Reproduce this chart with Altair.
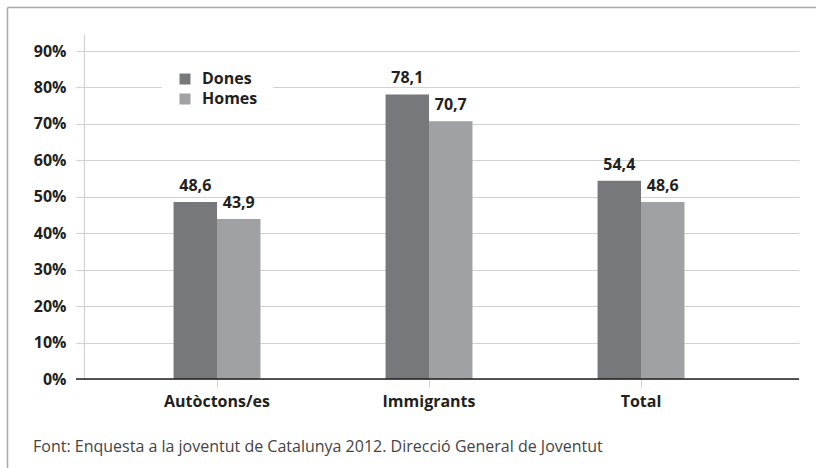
import altair as alt
import pandas as pd

categories = ["Autòctons/es", "Immigrants", "Total"]
dones = [48.6, 78.1, 54.4]
homes = [43.9, 70.7, 48.6]
series = ["Dones", "Homes"]
y_ticks = [0, 10, 20, 30, 40, 50, 60, 70, 80, 90]
source = "Font: Enquesta a la joventut de Catalunya 2012. Direcció General de Joventut"

rows = []
for c, d, h in zip(categories, dones, homes):
    rows.append({"cat": c, "sexe": "Dones", "val": d})
    rows.append({"cat": c, "sexe": "Homes", "val": h})
df = pd.DataFrame(rows)

FONT = "Open Sans"
TXT = "#231f20"
GRID = "#d1d2d4"
W, H = 715, 345

xscale = alt.Scale(domain=categories, paddingInner=0.59, paddingOuter=0.4813, align=0.4388)
yscale = alt.Scale(domain=[0, 94.67], nice=False)
offscale = alt.Scale(paddingInner=0, paddingOuter=0)

xaxis = alt.Axis(title=None, labelAngle=0, domain=False, grid=False,
                 tickColor=GRID, tickSize=8, labelFont=FONT, labelFontSize=16,
                 labelFontWeight="bold", labelColor=TXT, labelPadding=6)
yaxis = alt.Axis(title=None, values=y_ticks, labelExpr="datum.value + '%'",
                 grid=True, gridColor=GRID, gridWidth=1.2,
                 domain=True, domainColor=GRID, domainWidth=1.2,
                 tickColor=GRID, tickSize=8, tickWidth=1.2,
                 labelFont=FONT, labelFontSize=16, labelFontWeight="bold",
                 labelColor=TXT, labelPadding=10, labelOverlap=False)

base = alt.Chart(df)

bars = base.mark_bar().encode(
    x=alt.X("cat:N", scale=xscale, sort=categories, axis=xaxis),
    xOffset=alt.XOffset("sexe:N", sort=series, scale=offscale),
    y=alt.Y("val:Q", scale=yscale, axis=yaxis),
    color=alt.Color("sexe:N", sort=series,
                    scale=alt.Scale(domain=series, range=["#77787b", "#a0a1a4"]),
                    legend=alt.Legend(title=None, orient="none", legendX=78, legendY=22,
                                      fillColor="white", padding=15, symbolType="square",
                                      symbolSize=121, symbolStrokeWidth=0,
                                      labelFont=FONT, labelFontSize=16, labelFontWeight="bold",
                                      labelColor=TXT, labelOffset=9, rowPadding=4)),
)

labels = base.transform_calculate(
    lab="replace(format(datum.val, '.1f'), '.', ',')"
).mark_text(dy=-11, baseline="alphabetic", font=FONT, fontSize=16, fontWeight="bold", color=TXT).encode(
    x=alt.X("cat:N", scale=xscale, sort=categories, axis=xaxis),
    xOffset=alt.XOffset("sexe:N", sort=series, scale=offscale),
    y=alt.Y("val:Q", scale=yscale, axis=yaxis),
    text="lab:N",
)

baseline = alt.Chart(pd.DataFrame({"v": [0]})).mark_rule(color="#231f20", strokeWidth=1.5).encode(
    y=alt.Y("v:Q", scale=yscale, axis=yaxis), x=alt.value(-8), x2=alt.value(W)
)

frame_top = alt.Chart(pd.DataFrame({"v": [0]})).mark_rule(color="#a7a9ac", strokeWidth=1.5).encode(
    x=alt.value(-76.5), x2=alt.value(760), y=alt.value(-26.5)
)
frame_left = alt.Chart(pd.DataFrame({"v": [0]})).mark_rule(color="#a7a9ac", strokeWidth=1.5).encode(
    x=alt.value(-76.5), y=alt.value(-26.5), y2=alt.value(440)
)

footer = alt.Chart(pd.DataFrame({"t": [source]})).mark_text(
    align="left", baseline="alphabetic", font=FONT, fontSize=16, color="#444444"
).encode(x=alt.value(-51), y=alt.value(418), text="t:N")

chart = alt.layer(bars, labels, baseline, frame_top, frame_left, footer).properties(
    width=W, height=H,
    autosize="none",
    padding={"left": 84, "top": 34, "right": 17, "bottom": 89},
    background="white",
).configure_view(strokeWidth=0, stroke="transparent")

chart.save("out.html", embed_options={"renderer": "svg", "actions": False})
